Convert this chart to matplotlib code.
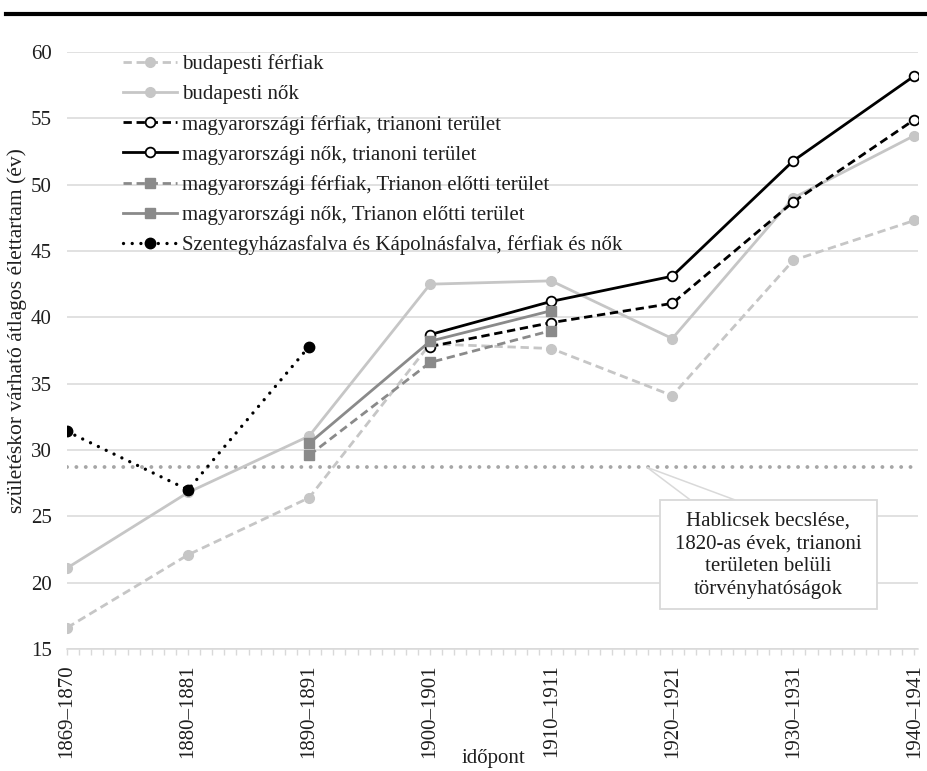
import matplotlib
matplotlib.use('Agg')
import matplotlib.pyplot as plt
from matplotlib.patches import Polygon, Rectangle
from matplotlib.lines import Line2D
import numpy as np

plt.rcParams['font.family'] = ['Liberation Serif', 'DejaVu Serif']

nan = np.nan

# data
periods = ['1869–1870', '1880–1881', '1890–1891', '1900–1901',
           '1910–1911', '1920–1921', '1930–1931', '1940–1941']
bp_ferfi = [16.6, 22.1, 26.4, 38.0, 37.65, 34.1, 44.3, 47.3]
bp_no = [21.1, 26.8, 31.05, 42.5, 42.75, 38.4, 49.0, 53.7]
mf_trianoni = [nan, nan, nan, 37.8, 39.6, 41.05, 48.7, 54.9]
mn_trianoni = [nan, nan, nan, 38.7, 41.2, 43.1, 51.8, 58.2]
mf_elotti = [nan, nan, 29.6, 36.6, 39.0, nan, nan, nan]
mn_elotti = [nan, nan, 30.5, 38.2, 40.5, nan, nan, nan]
szent = [31.4, 27.0, 37.8, nan, nan, nan, nan, nan]
hablicsek = 28.7

labels = ['budapesti férfiak', 'budapesti nők',
          'magyarországi férfiak, trianoni terület',
          'magyarországi nők, trianoni terület',
          'magyarországi férfiak, Trianon előtti terület',
          'magyarországi nők, Trianon előtti terület',
          'Szentegyházasfalva és Kápolnásfalva, férfiak és nők']

light = '#c6c6c6'
mid = '#8a8a8a'
grid_c = '#d9d9d9'
txt_c = '#1f1f1f'
fs = 15

x = np.arange(len(periods))

fig = plt.figure(figsize=(9.27, 7.71), dpi=100)
ax = fig.add_axes([67 / 927, 1 - 649 / 771, (918 - 67) / 927, (649 - 52) / 771])

lw = 2.0
ms = 7
dash = (3.0, 1.7)

ax.plot(x, bp_ferfi, color=light, lw=lw, dashes=dash, marker='o', ms=ms,
        mfc=light, mec=light, label=labels[0])
ax.plot(x, bp_no, color=light, lw=lw, marker='o', ms=ms,
        mfc=light, mec=light, label=labels[1])
ax.plot(x, mf_trianoni, color='black', lw=lw, dashes=dash, marker='o', ms=ms,
        mfc='white', mec='black', mew=1.3, label=labels[2])
ax.plot(x, mn_trianoni, color='black', lw=lw, marker='o', ms=ms,
        mfc='white', mec='black', mew=1.3, label=labels[3])
ax.plot(x, mf_elotti, color=mid, lw=lw, dashes=dash, marker='s', ms=ms,
        mfc=mid, mec=mid, label=labels[4])
ax.plot(x, mn_elotti, color=mid, lw=lw, marker='s', ms=ms,
        mfc=mid, mec=mid, label=labels[5])
ax.plot(x, szent, color='black', lw=2.4, linestyle=(0, (0.01, 2.6)),
        dash_capstyle='round', marker='o', ms=7.5, mfc='black', mec='black',
        label=labels[6])

# Hablicsek estimate
ax.axhline(hablicsek, color='#a6a6a6', lw=2.8, linestyle=(0, (0.01, 2.4)),
           dash_capstyle='round', zorder=1)

# callout box with pointer
box_x0, box_x1 = 4.9, 6.69
box_y0, box_y1 = 18.0, 26.23
callout = Polygon([(4.79, hablicsek), (5.15, box_y1), (5.52, box_y1)], closed=True,
                  facecolor='white', edgecolor=grid_c, lw=1.1, zorder=8)
ax.add_patch(callout)
ax.add_patch(Rectangle((box_x0, box_y0), box_x1 - box_x0, box_y1 - box_y0,
                       facecolor='white', edgecolor=grid_c, lw=1.3, zorder=9))
ax.text((box_x0 + box_x1) / 2, (box_y0 + box_y1) / 2 - 0.05,
        'Hablicsek becslése,\n1820-as évek, trianoni\nterületen belüli\ntörvényhatóságok',
        ha='center', va='center', fontsize=fs, color=txt_c, linespacing=1.27, zorder=10)

ax.set_xlim(0, 7.03)
ax.set_ylim(15, 60)
ax.set_yticks(np.arange(15, 61, 5))
ax.set_xticks(x)
ax.set_xticklabels(periods, rotation=90, fontsize=fs, color=txt_c)
ax.set_xticks(np.arange(0, 7.01, 0.1), minor=True)
ax.tick_params(axis='x', which='both', length=4, width=1, color=grid_c, pad=7)
ax.tick_params(axis='y', length=0, pad=11, labelsize=fs, labelcolor=txt_c)
ax.grid(axis='y', color=grid_c, lw=1.1)
ax.set_axisbelow(True)
for s in ['top', 'right', 'left']:
    ax.spines[s].set_visible(False)
ax.spines['bottom'].set_color(grid_c)
ax.spines['bottom'].set_linewidth(1.1)

leg = ax.legend(loc='upper left', bbox_to_anchor=(0.0658, 0.996), frameon=False,
                fontsize=fs, handlelength=2.6, handletextpad=0.24, labelspacing=0.5,
                borderpad=0, borderaxespad=0, numpoints=1)
for t in leg.get_texts():
    t.set_color(txt_c)

fig.text(17 / 927, 1 - 331 / 771, 'születéskor várható átlagos élettartam (év)',
         rotation=90, ha='center', va='center', fontsize=15.5, color=txt_c)
fig.text(493 / 927, 1 - 759 / 771, 'időpont', ha='center', va='center',
         fontsize=fs, color=txt_c)

# top rule
fig.add_artist(Line2D([0.006, 1.0], [1 - 14 / 771, 1 - 14 / 771], color='black',
                      lw=3, transform=fig.transFigure))

fig.savefig('out.png', dpi=100)
